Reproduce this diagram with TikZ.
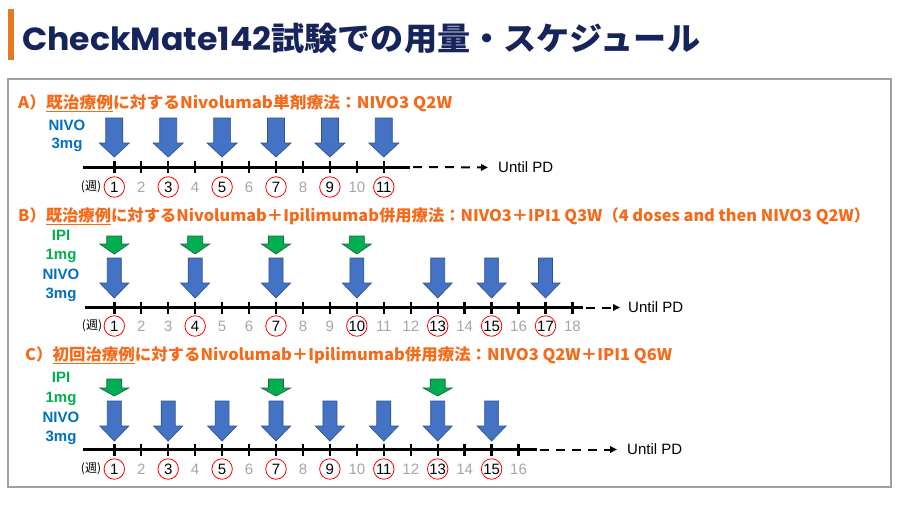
\documentclass[tikz,border=0pt]{standalone}
\usepackage{fontspec}
\usepackage{graphicx}
\setmainfont{Liberation Sans}
\newfontfamily\cjk{Noto Sans CJK JP}
\newfontfamily\popf{Poppins}
\usetikzlibrary{arrows.meta}
\definecolor{navy}{RGB}{22,36,92}
\definecolor{barorange}{RGB}{226,122,36}
\definecolor{hdrorange}{RGB}{245,105,25}
\definecolor{boxgray}{RGB}{160,160,160}
\definecolor{arrblue}{RGB}{68,114,196}
\definecolor{arrblueline}{RGB}{47,82,143}
\definecolor{arrgreen}{RGB}{0,176,80}
\definecolor{arrgreenline}{RGB}{30,100,60}
\definecolor{nivoblue}{RGB}{0,112,192}
\definecolor{ipigreen}{RGB}{0,176,80}
\definecolor{numgray}{RGB}{166,166,166}
\newcommand\blockarr[7]{%
  \filldraw[#7] ({#1-#5/2},#2) -- ({#1+#5/2},#2) -- ({#1+#5/2},#3) -- ({#1+#6/2},#3)
    -- ({#1},#4) -- ({#1-#6/2},#3) -- ({#1-#5/2},#3) -- cycle;}
\tikzset{
  bluearr/.style={fill=arrblue,draw=arrblueline,line width=0.7pt,line join=miter},
  greenarr/.style={fill=arrgreen,draw=arrgreenline,line width=0.7pt,line join=miter},
  hdr/.style={anchor=base west,inner sep=0pt,text=hdrorange,font=\cjk\bfseries\fontsize{16}{18}\selectfont},
  nivolbl/.style={anchor=base,inner sep=0pt,text=nivoblue,font=\bfseries\fontsize{15}{17}\selectfont},
  ipilbl/.style={anchor=base,inner sep=0pt,text=ipigreen,font=\bfseries\fontsize{15}{17}\selectfont},
  axisline/.style={line width=3pt,black},
  tickmark/.style={line width=2.4pt,black},
  graynum/.style={inner sep=0pt,text=numgray,font=\fontsize{15}{17}\selectfont},
  circnum/.style={circle,draw=red,line width=0.8pt,minimum size=20.5pt,inner sep=0pt,text=black,font=\fontsize{15}{17}\selectfont},
  weeklbl/.style={inner sep=0pt,font=\cjk\fontsize{12}{14}\selectfont},
  untillbl/.style={anchor=west,inner sep=0pt,font=\fontsize{15}{17}\selectfont},
  dashline/.style={line width=2pt,dash pattern=on 9pt off 7pt,-{Triangle[length=7pt,width=6.5pt]}}
}
\begin{document}
\begin{tikzpicture}[x=1pt,y=-1pt]
\useasboundingbox (0,0) rectangle (900,506);
\fill[white] (0,0) rectangle (900,506);
% title
\fill[barorange] (8,9) rectangle (14,60);
\node[anchor=base west,inner sep=0pt,text=navy] (title) at (22,50)
  {\resizebox{678pt}{\height}{\fontsize{32}{36}\selectfont\bfseries{\popf CheckMate142}{\cjk 試験での用量・スケジュール}}};
% panel
\draw[boxgray,line width=1.5pt] (8,79) rectangle (891,487);
% ---------- A ----------
\node[hdr] (hA) at (18,108) {\resizebox{434pt}{\height}{A）\underline{既治療例}に対するNivolumab単剤療法：NIVO3 Q2W}};
\node[nivolbl] (aN1) at (67,130) {NIVO};
\node[nivolbl] (aN2) at (67,148.5) {3mg};
\foreach \k in {1,3,5,7,9,11} {\blockarr{114.3+(\k-1)*26.95}{118}{143}{157}{17}{30}{bluearr}}
\coordinate (aS) at (83,167);
\coordinate (aE) at (410,167);
\draw[axisline] (aS) -- (aE);
\foreach \k in {1,...,11} {\draw[tickmark] ({114.3+(\k-1)*26.95},161) -- ({114.3+(\k-1)*26.95},173);}
\foreach \k in {1,3,5,7,9,11} {\node[circnum] (a\k) at ({114.3+(\k-1)*26.95},187) {\k};}
\foreach \k in {2,4,6,8,10} {\node[graynum] (a\k) at ({114.3+(\k-1)*26.95},187) {\k};}
\node[weeklbl] (aW) at (91,187) {(週)};
\node[untillbl] (uA) at (498,167.5) {Until PD};
\draw[dashline,shorten >=10pt] ([xshift=3pt]aE) -- (uA.west);
% ---------- B ----------
\node[hdr] (hB) at (18,221.5) {\resizebox{852pt}{\height}{B）\underline{既治療例}に対するNivolumab＋Ipilimumab併用療法：NIVO3＋IPI1 Q3W（4 doses and then NIVO3 Q2W）}};
\node[ipilbl] (bI1) at (61,240) {IPI};
\node[ipilbl] (bI2) at (61,259) {1mg};
\node[nivolbl] (bN1) at (61,279) {NIVO};
\node[nivolbl] (bN2) at (61,298) {3mg};
\foreach \k in {1,4,7,10} {\blockarr{114.3+(\k-1)*26.95}{236}{244}{254}{15}{29}{greenarr}}
\foreach \k in {1,4,7,10,13,15,17} {\blockarr{114.3+(\k-1)*26.95}{258}{283}{298}{14}{29}{bluearr}}
\coordinate (bS) at (85,307.5);
\coordinate (bE) at (583,307.5);
\draw[axisline] (bS) -- (bE);
\foreach \k in {1,...,18} {\draw[tickmark] ({114.3+(\k-1)*26.95},301.5) -- ({114.3+(\k-1)*26.95},313.5);}
\foreach \k in {1,4,7,10,13,15,17} {\node[circnum] (b\k) at ({114.3+(\k-1)*26.95},326) {\k};}
\foreach \k in {2,3,5,6,8,9,11,12,14,16,18} {\node[graynum] (b\k) at ({114.3+(\k-1)*26.95},326) {\k};}
\node[weeklbl] (bW) at (92,326) {(週)};
\node[untillbl] (uB) at (628,307.5) {Until PD};
\draw[dashline,shorten >=8pt] ([xshift=3pt]bE) -- (uB.west);
% ---------- C ----------
\node[hdr] (hC) at (25,360) {\resizebox{647pt}{\height}{C）\underline{初回治療例}に対するNivolumab＋Ipilimumab併用療法：NIVO3 Q2W＋IPI1 Q6W}};
\node[ipilbl] (cI1) at (61,382.5) {IPI};
\node[ipilbl] (cI2) at (61,402) {1mg};
\node[nivolbl] (cN1) at (61,422) {NIVO};
\node[nivolbl] (cN2) at (61,441.5) {3mg};
\foreach \k in {1,7,13} {\blockarr{114.3+(\k-1)*26.95}{379}{388}{396}{15}{29}{greenarr}}
\foreach \k in {1,3,5,7,9,11,13,15} {\blockarr{114.3+(\k-1)*26.95}{401}{426}{441}{14}{29}{bluearr}}
\coordinate (cS) at (83,449.5);
\coordinate (cE) at (537,449.5);
\draw[axisline] (cS) -- (cE);
\foreach \k in {1,...,16} {\draw[tickmark] ({114.3+(\k-1)*26.95},443.5) -- ({114.3+(\k-1)*26.95},455.5);}
\foreach \k in {1,3,5,7,9,11,13,15} {\node[circnum] (c\k) at ({114.3+(\k-1)*26.95},469) {\k};}
\foreach \k in {2,4,6,8,10,12,14,16} {\node[graynum] (c\k) at ({114.3+(\k-1)*26.95},469) {\k};}
\node[weeklbl] (cW) at (91,469) {(週)};
\node[untillbl] (uC) at (627,449.5) {Until PD};
\draw[dashline,shorten >=10pt] ([xshift=3pt]cE) -- (uC.west);
\end{tikzpicture}
\end{document}
